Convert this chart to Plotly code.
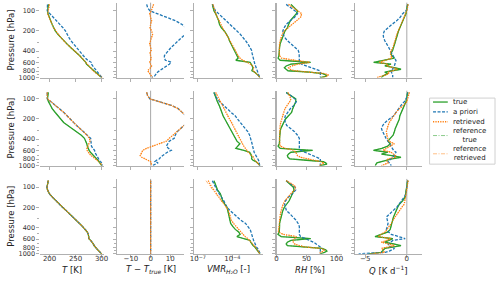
import plotly.graph_objects as go
from plotly.subplots import make_subplots

# ---------------- data ----------------
P = [80, 90, 100, 110, 125, 140, 160, 180, 200, 225, 250, 280, 310, 350, 390,
     430, 470, 510, 550, 590, 630, 670, 710, 750, 790, 830, 870, 910, 950, 1000]

# temperature (true) and deviations of a priori / retrieved from true [K]
T_true_1 = [198, 197, 196, 197, 199, 202, 205, 208, 211, 216, 221, 227, 233, 240, 247,
            253, 258, 262, 266, 269.5, 271, 275, 279, 282, 285, 288, 291, 294, 297, 300]
dT_apr_1 = [-2, -1.5, -0.3, 3.5, 8, 12.5, 16, 18, 19.5, 17.5, 16, 14, 12.5, 10.5, 9,
            8, 7, 7, 7.5, 10.5, 9.5, 8, 6.5, 5.3, 4.5, 3.5, 2.8, 2.3, 2, 0.5]
dT_ret_1 = [1.5, 1, 0.3, -0.5, 0, 0.5, 0, -0.3, 0.5, 1, 0.5, 0, -0.5, 0, 0.3,
            -0.3, 0, 0.3, 0, -0.5, 0, 0.5, 0, -1, -1.5, -1, -0.5, 0, 0.5, 1]

T_true_2 = [197.5, 196.5, 196, 198, 201, 205, 211, 216, 221, 227, 235, 244, 252, 261, 267,
            270, 271.5, 272.5, 274, 276, 278.5, 282, 285.5, 289, 291, 293, 295, 297, 298.5, 300]
dT_apr_2 = [-2, -1.5, -0.3, 4.5, 10.5, 14, 16.5, 18, 19.5, 19, 17, 15, 13.5, 12.5, 12,
            9.5, 8.5, 8, 9, 10.5, 8.5, 7, 6, 5, 4.5, 3, 2.2, 3.8, 2, 0.8]
dT_ret_2 = [-2, -1.5, -0.3, 4.5, 10.5, 14, 16.5, 18, 19.5, 19, 17, 15, 13, 11, 9.5,
            8, 4, 0.5, -2, -4, -4.5, -5, -5.3, -4.5, -2.7, -1, 0, 0.3, 0.5, 0.5]

T_true_3 = [197.5, 196, 195, 196, 199.5, 205, 212, 219.5, 225, 232, 238.5, 245, 250.5, 257.5, 263.5,
            268.5, 272.5, 274.5, 275, 275.5, 279, 282, 284, 285.5, 287.5, 290, 292.5, 295, 297.5, 300]
dT_apr_3 = [0, 0, 0, 0, 0, 0, 0, 0, 0, 0, 0, 0, 0, 0, 0,
            0, 0, 0, 0, 0, 0, 0, 0, 0, 0, 0, 0, 0, 0, 0]
dT_ret_3 = [0, 0, 0, 0, 0, 0, 0, 0, 0, 0, 0, 0, 0, 0, 0,
            0, 0, 0, 0, 0, 0, 0, 0, 0, 0, 0, 0, 0, 0, 0]

# water vapour VMR [-]
vmr_true_1 = [1.8e-6, 2.2e-6, 2.5e-6, 3.5e-6, 5.0e-6, 6.3e-6, 7.6e-6, 1.12e-5, 2.0e-5, 3.2e-5,
              4.5e-5, 5.6e-5, 7.6e-5, 1.05e-4, 1.4e-4, 2.0e-4, 2.7e-4, 3.2e-4, 2.0e-4, 3.5e-3,
              4.5e-3, 5.6e-3, 6.3e-3, 5.6e-3, 5.0e-3, 8.9e-3, 1.26e-2, 1.66e-2, 2.1e-2, 2.4e-2]
vmr_apr_1 = [1.8e-6, 2.5e-6, 3.4e-6, 6.3e-6, 1.26e-5, 2.8e-5, 6.3e-5, 1.4e-4, 2.5e-4, 5.0e-4,
             8.9e-4, 1.4e-3, 2.2e-3, 3.5e-3, 4.7e-3, 5.2e-3, 5.8e-3, 6.3e-3, 6.8e-3, 7.9e-3,
             9.1e-3, 1.05e-2, 1.17e-2, 1.35e-2, 1.5e-2, 1.7e-2, 1.9e-2, 2.1e-2, 2.3e-2, 2.4e-2]
vmr_ret_1 = [2.0e-6, 2.4e-6, 2.8e-6, 3.5e-6, 5.0e-6, 6.8e-6, 8.9e-6, 1.26e-5, 1.9e-5, 3.0e-5,
             4.2e-5, 5.6e-5, 7.9e-5, 1.12e-4, 1.58e-4, 2.2e-4, 3.2e-4, 4.5e-4, 7.9e-4, 2.0e-3,
             4.0e-3, 6.3e-3, 7.1e-3, 6.3e-3, 6.3e-3, 8.9e-3, 1.26e-2, 1.66e-2, 2.1e-2, 2.4e-2]

vmr_true_2 = [2.5e-6, 3.2e-6, 3.5e-6, 5.0e-6, 7.1e-6, 8.9e-6, 1.12e-5, 1.58e-5, 2.2e-5, 3.2e-5,
              4.0e-5, 6.0e-5, 7.9e-5, 1.17e-4, 1.8e-4, 2.5e-4, 4.5e-4, 2.8e-4, 2.0e-4, 1.0e-3,
              3.2e-3, 4.0e-3, 4.7e-3, 5.0e-3, 4.7e-3, 6.3e-3, 1.12e-2, 1.58e-2, 2.0e-2, 2.4e-2]
vmr_apr_2 = [2.5e-6, 3.5e-6, 4.7e-6, 7.9e-6, 1.58e-5, 3.5e-5, 7.9e-5, 1.8e-4, 2.8e-4, 5.0e-4,
             8.9e-4, 1.58e-3, 2.2e-3, 3.2e-3, 4.0e-3, 4.7e-3, 5.2e-3, 5.8e-3, 6.3e-3, 6.8e-3,
             7.9e-3, 9.5e-3, 1.2e-2, 1.4e-2, 1.66e-2, 1.9e-2, 2.1e-2, 2.3e-2, 2.4e-2, 2.4e-2]
vmr_ret_2 = [3.5e-6, 5.0e-6, 6.6e-6, 8.9e-6, 1.26e-5, 1.66e-5, 2.5e-5, 3.8e-5, 5.6e-5, 8.3e-5,
             1.12e-4, 1.66e-4, 2.1e-4, 3.2e-4, 4.3e-4, 5.6e-4, 7.6e-4, 1.0e-3, 1.3e-3, 1.8e-3,
             2.4e-3, 3.5e-3, 5.6e-3, 7.1e-3, 7.9e-3, 8.9e-3, 1.12e-2, 1.58e-2, 2.0e-2, 2.4e-2]

vmr_true_3 = [2.5e-6, 3.5e-6, 4.2e-6, 5.0e-6, 8.9e-6, 1.12e-5, 1.4e-5, 2.2e-5, 3.4e-5, 4.0e-5,
              4.7e-5, 5.2e-5, 6.0e-5, 7.1e-5, 1.12e-4, 1.8e-4, 3.5e-4, 4.8e-4, 2.5e-4, 1.26e-3,
              3.5e-3, 4.0e-3, 4.7e-3, 6.3e-3, 9.1e-3, 1.12e-2, 1.4e-2, 1.8e-2, 2.2e-2, 2.5e-2]
vmr_apr_3 = [1.8e-6, 2.5e-6, 3.2e-6, 4.5e-6, 7.1e-6, 1.12e-5, 1.8e-5, 2.5e-5, 3.4e-5, 6.3e-5,
             1.26e-4, 2.8e-4, 5.0e-4, 1.4e-3, 2.5e-3, 3.5e-3, 4.2e-3, 4.7e-3, 5.2e-3, 6.3e-3,
             7.1e-3, 8.3e-3, 9.3e-3, 1.1e-2, 1.26e-2, 1.58e-2, 1.86e-2, 2.1e-2, 2.4e-2, 2.5e-2]
vmr_ret_3 = [7.9e-7, 1.12e-6, 1.58e-6, 2.5e-6, 4.0e-6, 6.3e-6, 1.12e-5, 2.0e-5, 3.2e-5, 4.5e-5,
             5.6e-5, 6.3e-5, 7.9e-5, 1.26e-4, 2.2e-4, 3.5e-4, 5.6e-4, 8.9e-4, 1.26e-3, 2.2e-3,
             3.2e-3, 4.5e-3, 6.3e-3, 7.9e-3, 1.0e-2, 1.2e-2, 1.48e-2, 1.86e-2, 2.2e-2, 2.5e-2]
vmr_refret_3 = [5.0e-7, 7.9e-7, 1.26e-6, 2.0e-6, 3.5e-6, 5.6e-6, 1.0e-5, 1.8e-5, 3.0e-5, 4.5e-5,
                5.6e-5, 6.3e-5, 7.9e-5, 1.26e-4, 2.2e-4, 3.5e-4, 5.6e-4, 8.9e-4, 1.26e-3, 2.2e-3,
                3.2e-3, 4.5e-3, 6.3e-3, 7.9e-3, 1.0e-2, 1.2e-2, 1.48e-2, 1.86e-2, 2.2e-2, 2.5e-2]

# relative humidity [%]
rh_true_1 = [24, 30, 35, 33, 27, 23, 20, 18, 14, 11.5, 9.5, 7.5, 6, 5, 5,
             5, 4, 2.5, 6, 57, 24, 16, 13, 16, 19, 55, 77, 82, 84, 73]
rh_apr_1 = [16, 25, 31, 35, 30, 23, 16, 12.5, 10.5, 11, 13.5, 18, 24, 31, 36,
            37.7, 38, 38, 38, 38, 42, 50, 58, 66, 72, 73, 73, 73, 73, 73]
rh_ret_1 = [20, 28, 36, 42, 40, 33, 25, 18, 13, 9.5, 7.5, 6, 5, 4.5, 4.5,
            4.5, 5, 8, 30, 55, 35, 25, 20, 22, 30, 55, 80, 86, 85, 75]

rh_true_2 = [16, 25, 32, 32, 29, 27, 25, 20, 15, 12, 9, 7, 6, 5, 5,
             5, 4.5, 2.5, 6, 60, 24, 20, 18, 19, 22, 50, 78, 82, 84, 73]
rh_apr_2 = [16, 25, 31, 33, 29, 23, 18, 14.5, 13.5, 14.5, 17, 24, 30, 35, 38,
            38, 38, 38, 38, 40, 48, 56, 63, 69, 73, 73, 73, 73, 73, 73]
rh_ret_2 = [19, 22, 24, 22, 17, 14, 12, 10, 8, 7, 6, 5.5, 5, 5, 5,
            5, 5, 6, 15, 29, 32, 34, 35, 40, 50, 62, 74, 79, 76, 71]

rh_true_3 = [16, 23, 28, 29, 27, 24, 21, 16, 13, 10.4, 9, 7, 6, 5, 5,
             4.9, 4.5, 2.2, 7.6, 57, 24, 18, 16, 18, 46, 76, 82, 84, 80, 73]
rh_apr_3 = [16, 25, 31, 32, 27, 20, 15, 13.5, 14.5, 16.4, 22, 28, 32, 36, 38,
            38, 38, 38, 40, 48, 57, 62, 66, 70, 73, 73, 73, 73, 73, 73]
rh_ret_3 = [16, 26, 32, 30, 24, 19, 14, 11, 9, 7.6, 6.5, 5.5, 5, 4.9, 4,
            2.5, 3, 11, 33, 30, 27, 28, 30, 38, 48, 75, 80, 78, 73, 72]

# heating rate Q [K/d]
q_true_1 = [0.1, 0.05, -0.05, -0.1, -0.3, -0.5, -0.7, -0.85, -1.0, -1.15, -1.25, -1.35, -1.45, -1.55, -1.7,
            -1.9, -1.8, -1.5, -2.6, -4.0, -1.9, -2.65, -1.5, -0.7, -1.8, -2.65, -2.3, -2.7, -2.9, -3.05]
q_apr_1 = [0.1, 0.05, -0.1, -0.5, -0.8, -1.2, -1.8, -2.35, -2.7, -2.85, -2.8, -2.65, -2.4, -2.2, -2.0,
           -1.85, -1.7, -1.5, -1.3, -1.35, -1.45, -1.5, -1.6, -1.8, -1.9, -1.85, -1.75, -1.7, -1.7, -1.7]
q_ret_1 = [0.15, 0.1, 0, -0.15, -0.3, -0.5, -0.7, -0.9, -1.05, -1.2, -1.3, -1.4, -1.5, -1.65, -1.85,
           -2.0, -1.9, -1.8, -2.6, -3.3, -2.3, -2.4, -1.6, -1.1, -1.7, -2.3, -2.2, -2.5, -3.0, -3.6]

q_true_2 = [0.1, 0.05, -0.05, -0.1, -0.3, -0.5, -0.7, -0.85, -0.9, -1.1, -1.25, -1.4, -1.5, -1.65, -2.0,
            -2.26, -2.0, -2.3, -3.0, -4.0, -2.3, -3.05, -1.8, -0.7, -1.8, -2.5, -2.9, -3.6, -3.7, -3.8]
q_apr_2 = [0.1, 0.05, -0.1, -0.3, -0.7, -1.0, -1.3, -1.6, -2.1, -2.6, -2.9, -3.05, -2.9, -2.7, -2.5,
           -2.26, -2.1, -1.95, -1.8, -1.6, -1.3, -1.4, -1.55, -1.68, -1.9, -2.1, -2.26, -2.1, -1.95, -1.87]
q_ret_2 = [0.3, 0.2, 0.1, 0, -0.4, -0.9, -1.3, -1.6, -1.9, -2.1, -2.25, -2.35, -2.46, -2.4, -2.3,
           -2.2, -1.5, -2.0, -2.6, -2.85, -1.9, -1.6, -1.35, -1.4, -2.2, -2.46, -2.3, -2.26, -2.6, -3.05]

q_true_3 = [0.1, 0.05, 0, -0.05, -0.1, -0.2, -0.5, -0.9, -1.1, -1.3, -1.45, -1.6, -1.7, -1.8, -1.87,
            -2.0, -2.26, -3.0, -3.83, -1.68, -2.2, -2.65, -1.6, -0.7, -1.7, -2.65, -2.8, -2.95, -3.1, -4.6]
q_apr_3 = [0.1, 0.05, 0, -0.05, -0.1, -0.3, -0.6, -0.9, -1.2, -1.65, -2.1, -2.45, -2.35, -2.26, -2.35,
           -2.46, -2.2, -1.87, -1.0, -0.2, -1.68, -2.0, -2.2, -2.26, -1.9, -1.48, -1.8, -2.1, -2.6, -5.8]
q_ret_3 = [0.15, 0.1, 0.05, 0, -0.05, -0.15, -0.25, -0.3, -0.6, -0.9, -1.1, -1.4, -1.65, -1.87, -2.1,
           -2.35, -2.6, -3.1, -3.44, -1.87, -2.5, -3.05, -2.2, -1.48, -2.2, -3.05, -2.9, -2.75, -2.7, -4.4]

P_TICKS = [100, 200, 400, 600, 800, 1000]
X_TICKS = [[200, 250, 300], [-10, 0, 10], [1e-7, 1e-4], [0, 50, 100], [-5, 0]]
X_TICKTEXT = [["200", "250", "300"], ["\u221210", "0", "10"],
              ["10<sup>\u22127</sup>", "10<sup>\u22124</sup>"], ["0", "50", "100"], ["\u22125", "0"]]
X_TITLES = ["<i>T</i> [K]", "<i>T</i> \u2212 <i>T<sub>true</sub></i> [K]",
            "<i>VMR<sub>H\u2082O</sub></i> [-]", "<i>RH</i> [%]", "<i>Q</i> [K d<sup>\u22121</sup>]"]
NAMES = ["true", "a priori", "retrieved", "reference<br>true", "reference<br>retrieved"]

# ---------------- layout geometry (pixels) ----------------
W, H = 500, 283
COLS_PX = [(37, 102), (115, 183), (193, 263), (277, 344), (357, 425)]
ROWS_PX = [(2.7, 78.7), (92.0, 168.0), (181.5, 257.5)]
X_RANGES = [[182.4, 305.3], [-17, 17], [-7.35, -1.35], [0, 110], [-6.2, 1.85]]

GREEN, BLUE, ORANGE = "#2ca02c", "#1f77b4", "#ff7f0e"
STYLES = [
    dict(color=GREEN, width=1.3, dash="solid"),
    dict(color=BLUE, width=1.3, dash="3px,1.5px"),
    dict(color=ORANGE, width=1.3, dash="1.2px,1.2px"),
    dict(color="rgba(44,160,44,0.55)", width=1.0, dash="4px,1.5px,1px,1.5px"),
    dict(color="rgba(255,127,14,0.5)", width=1.0, dash="4px,1.5px,1px,1.5px"),
]

row_data = [
    (T_true_1, dT_apr_1, dT_ret_1, vmr_true_1, vmr_apr_1, vmr_ret_1, vmr_ret_1,
     rh_true_1, rh_apr_1, rh_ret_1, q_true_1, q_apr_1, q_ret_1),
    (T_true_2, dT_apr_2, dT_ret_2, vmr_true_2, vmr_apr_2, vmr_ret_2, vmr_ret_2,
     rh_true_2, rh_apr_2, rh_ret_2, q_true_2, q_apr_2, q_ret_2),
    (T_true_3, dT_apr_3, dT_ret_3, vmr_true_3, vmr_apr_3, vmr_ret_3, vmr_refret_3,
     rh_true_3, rh_apr_3, rh_ret_3, q_true_3, q_apr_3, q_ret_3),
]

fig = make_subplots(rows=3, cols=5)

for r, d in enumerate(row_data, start=1):
    (Tt, dTa, dTr, vt, va, vr, vrr, rht, rha, rhr, qt, qa, qr) = d
    Ta = [t + x for t, x in zip(Tt, dTa)]
    Tr = [t + x for t, x in zip(Tt, dTr)]
    panels = [
        [Tt, Ta, Tr, Tt, Tr],
        [None, dTa, dTr, None, dTr],
        [vt, va, vr, vt, vrr],
        [rht, rha, rhr, rht, rhr],
        [qt, qa, qr, qt, qr],
    ]
    for c, series in enumerate(panels, start=1):
        for k, xs in enumerate(series):
            if xs is None:
                continue
            fig.add_trace(go.Scatter(
                x=xs, y=P, mode="lines", line=STYLES[k], name=NAMES[k].replace("<br>", " "),
                showlegend=False, hoverinfo="skip"), row=r, col=c)

AX_COLOR = "#b0b0b0"
FONT = "DejaVu Sans"
for r in range(1, 4):
    for c in range(1, 6):
        idx = (r - 1) * 5 + c
        sfx = "" if idx == 1 else str(idx)
        x0, x1 = COLS_PX[c - 1]
        ytop, ybot = ROWS_PX[r - 1]
        xa = dict(domain=[x0 / W, x1 / W], range=X_RANGES[c - 1], autorange=False,
                  showline=True, linecolor=AX_COLOR, linewidth=1.2, mirror=False,
                  ticks="outside", ticklen=3, tickwidth=1, tickcolor=AX_COLOR,
                  tickvals=X_TICKS[c - 1], ticktext=X_TICKTEXT[c - 1],
                  showticklabels=(r == 3), showgrid=False, zeroline=False,
                  ticklabelstandoff=-5,
                  tickfont=dict(family=FONT, size=7, color="#333333"))
        if c == 3:
            xa["type"] = "log"
        ya = dict(domain=[1 - ybot / H, 1 - ytop / H], type="log",
                  range=[3.0, 1.877], autorange=False,
                  showline=(c != 1), linecolor=AX_COLOR, linewidth=1.2,
                  ticks="outside", ticklen=3, tickwidth=1, tickcolor=AX_COLOR,
                  tickvals=P_TICKS, ticktext=[str(v) for v in P_TICKS],
                  showticklabels=(c == 1), showgrid=False, zeroline=False,
                  minor=dict(tickvals=[300, 500, 700, 900], ticks="outside",
                             ticklen=2, tickcolor=AX_COLOR, showgrid=False),
                  tickfont=dict(family=FONT, size=6.5, color="#333333"))
        fig.layout["xaxis" + sfx].update(xa)
        fig.layout["yaxis" + sfx].update(ya)
        if c in (2, 5):
            fig.add_shape(type="line", xref="x" + str(idx), yref="y" + str(idx) + " domain",
                          x0=0, x1=0, y0=0, y1=1, layer="below",
                          line=dict(color="#a8a8a8", width=1))

annotations = []
for c in range(5):
    x0, x1 = COLS_PX[c]
    annotations.append(dict(text=X_TITLES[c], x=(x0 + x1) / 2 / W, y=1 - 273.5 / H,
                            xref="paper", yref="paper", showarrow=False,
                            xanchor="center", yanchor="middle",
                            font=dict(family=FONT, size=8.5, color="#222222")))
for r in range(3):
    ytop, ybot = ROWS_PX[r]
    annotations.append(dict(text="Pressure [hPa]", x=7.5 / W, y=1 - (ytop + ybot) / 2 / H,
                            xref="paper", yref="paper", showarrow=False, textangle=-90,
                            xanchor="center", yanchor="middle",
                            font=dict(family=FONT, size=8.5, color="#222222")))

# ---------------- legend (drawn in paper pixels) ----------------
LEG_BOX = (432.5, 99.5, 499, 166.5)
LEG_LINE_Y = [103.5, 113.5, 123.5, 137.5, 156]
LEG_TEXT = [(454.5, 103.5, "left"), (454.5, 113.5, "left"), (454.5, 123.5, "left"),
            (473, 137.5, "center"), (473, 156, "center")]
fig.add_shape(type="rect", xref="paper", yref="paper",
              x0=LEG_BOX[0] / W, x1=LEG_BOX[2] / W, y0=1 - LEG_BOX[3] / H, y1=1 - LEG_BOX[1] / H,
              line=dict(color="#d0d0d0", width=1), fillcolor="white", layer="above")
for k in range(5):
    ly = 1 - LEG_LINE_Y[k] / H
    st = STYLES[k]
    fig.add_shape(type="line", xref="paper", yref="paper",
                  x0=436 / W, x1=451 / W, y0=ly, y1=ly, layer="above",
                  line=dict(color=st["color"], width=st["width"], dash=st["dash"]))
    tx, ty, al = LEG_TEXT[k]
    annotations.append(dict(text=NAMES[k], x=tx / W, y=1 - ty / H, xref="paper", yref="paper",
                            showarrow=False, xanchor=al, yanchor="middle", align="center",
                            font=dict(family=FONT, size=7, color="#222222")))

fig.update_layout(
    width=W, height=H, margin=dict(l=0, r=0, t=0, b=0),
    paper_bgcolor="white", plot_bgcolor="white",
    font=dict(family=FONT, size=7, color="#222222"),
    annotations=annotations, hovermode=False, showlegend=False,
)

fig.write_html(
    "out.html",
    config={"displayModeBar": False, "staticPlot": True},
    post_script="document.body.style.margin='0px';document.body.style.padding='0px';"
                "document.body.style.overflow='hidden';",
)
